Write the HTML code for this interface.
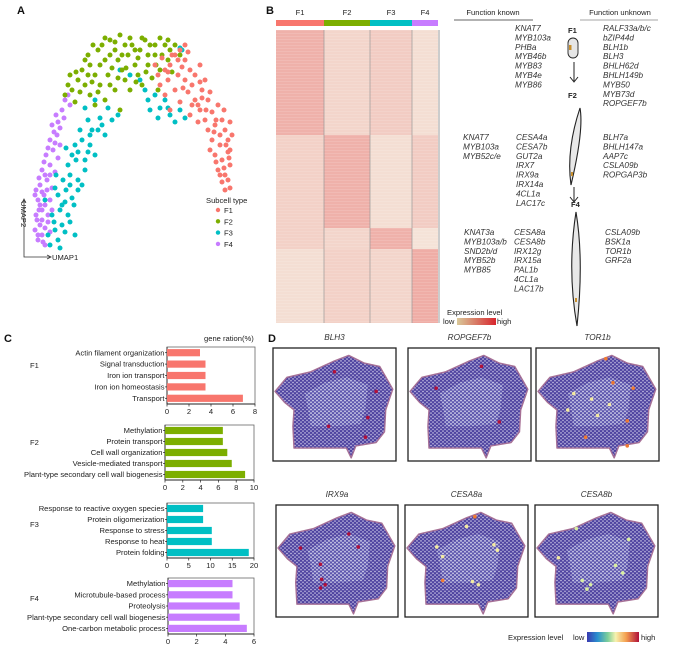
<!DOCTYPE html>
<html><head><meta charset="utf-8"><style>
body{margin:0;background:#fff;}
svg text{font-family:"Liberation Sans",sans-serif;}
.it{font-style:italic;font-size:8.2px;fill:#333;}
.lab{font-size:7.6px;fill:#222;}
.pl{font-size:11px;font-weight:bold;fill:#111;}
</style></head><body>
<svg id="fig" width="681" height="653" viewBox="0 0 681 653" xmlns="http://www.w3.org/2000/svg">
<defs>
<pattern id="hex" width="4" height="3.6" patternUnits="userSpaceOnUse"><rect width="4" height="3.6" fill="#4e43a0"/><circle cx="1" cy="0.9" r="0.75" fill="#d8d4ee"/><circle cx="3" cy="2.7" r="0.75" fill="#d8d4ee"/></pattern>
<pattern id="hex2" width="4" height="3.6" patternUnits="userSpaceOnUse"><rect width="4" height="3.6" fill="#5f5ab0"/><circle cx="1" cy="0.9" r="0.85" fill="#e8e8f6"/><circle cx="3" cy="2.7" r="0.85" fill="#e8e8f6"/></pattern>
<linearGradient id="gB" x1="0" x2="1"><stop offset="0" stop-color="#d9c99a"/><stop offset="1" stop-color="#d8262e"/></linearGradient>
<linearGradient id="gD" x1="0" x2="1"><stop offset="0" stop-color="#3a3ab0"/><stop offset="0.2" stop-color="#2a8fd0"/><stop offset="0.4" stop-color="#7ccf9a"/><stop offset="0.55" stop-color="#f6f2b0"/><stop offset="0.75" stop-color="#f4a050"/><stop offset="1" stop-color="#b0103a"/></linearGradient>
</defs>
<g id="pA"></g>
<g id="pB"></g>
<g id="pBr"></g>
<g id="pC"></g>
<g id="pD"></g>
</svg>
<script>
const NS="http://www.w3.org/2000/svg";
const COLORS=["#f8766d","#7cae00","#00bfc4","#c77cff"];
const CLUSTERS=["F1","F2","F3","F4"];
// Panel A data (UMAP units)
const umapF1=[[125,185],[132,192],[140,185],[145,195],[150,200],[155,190],[148,175],[138,170],[130,165],[135,155],[145,160],[155,170],[160,180],[165,175],[158,158],[150,148],[140,140],[165,150],[172,160],[178,150],[170,140],[160,135],[182,138],[188,145],[192,130],[185,125],[178,120],[195,120],[198,110],[190,105],[182,110],[185,95],[192,90],[198,98],[188,80],[195,75],[200,85],[192,68],[198,70],[175,130],[168,128],[200,128],[202,115],[155,205],[158,198],[128,175],[170,168],[180,100],[194,82],
 [135,180],[142,195],[152,183],[162,165],[175,170],[168,145],[180,158],[186,130],[176,140],[190,115],[196,105],[186,88],[199,92],[190,75],[200,62],[195,60],[162,145],[153,162],[138,178],[148,190],[184,118],[172,152],[194,140],[200,100],[170,185]];
const umapF2=[[35,155],[42,160],[48,170],[40,175],[55,165],[52,180],[60,185],[65,175],[58,195],[68,200],[75,190],[72,205],[80,210],[85,200],[90,215],[95,205],[100,212],[88,190],[78,175],[70,165],[98,195],[105,185],[110,200],[115,210],[120,205],[125,195],[130,212],[135,205],[118,185],[108,175],[95,170],[85,160],[75,150],[65,145],[100,160],[112,165],[122,172],[130,180],[138,190],[140,200],[142,178],[128,160],[90,140],[60,155],[45,148],[150,195],[82,182],[62,168],[105,200],[92,180],
 [38,165],[46,178],[55,190],[63,205],[75,212],[85,208],[92,195],[102,205],[112,212],[118,195],[125,205],[132,195],[80,165],[70,185],[58,175],[50,158],[96,182],[106,168],[116,178],[126,185],[88,172],[68,158],[80,195],[108,192],[138,210],[145,205]];
const umapF3=[[20,5],[28,10],[25,20],[32,25],[22,35],[30,40],[38,35],[28,55],[36,60],[42,52],[33,70],[40,75],[48,70],[38,85],[46,90],[55,80],[65,95],[45,105],[52,110],[60,105],[50,120],[68,120],[75,115],[58,130],[70,132],[55,142],[82,130],[65,150],[118,150],[125,155],[130,142],[135,150],[140,135],[145,128],[128,132],[155,132],[90,180],[110,170],[150,202],[152,200],[45,15],[15,50],[35,48],[25,62],[42,95],
 [18,15],[30,2],[35,18],[24,28],[40,28],[32,45],[44,45],[48,60],[52,65],[40,65],[55,90],[60,115],[72,125],[62,120],[48,98],[58,98],[120,140],[138,142],[150,140],[115,160],[100,175],[78,142],[88,135],[26,75],[36,102]];
const umapF4=[[8,10],[12,15],[10,25],[15,22],[6,35],[12,40],[18,35],[8,50],[14,55],[20,50],[10,65],[17,70],[22,62],[12,80],[20,85],[25,78],[16,95],[23,100],[28,92],[20,110],[27,115],[22,125],[30,122],[26,135],[32,140],[35,150],[40,145],[15,5],[20,18],[6,60],[25,107],[30,105],[5,20],[18,28],[10,45],[14,88],
 [7,30],[9,40],[15,45],[5,55],[12,58],[17,60],[20,75],[9,72],[15,75],[18,102],[24,118],[28,128],[34,132],[38,155],[12,30],[22,40],[8,15],[13,8]];
// Panel B heatmap intensities: rows = gene blocks, cols = clusters
const heatRows=["F1-genes","F2-genes","F3-genes","F4-genes"];
const heatRowSizes=[105,93,21,74];
const heatColSizes=[48,46,42,26];
const heatVals=[[0.7,0.3,0.4,0.2],[0.35,0.7,0.2,0.4],[0.35,0.3,0.7,0.15],[0.2,0.35,0.3,0.75]];
// Panel C
const goTerms=[
 ["Actin filament organization","Signal transduction","Iron ion transport","Iron ion homeostasis","Transport"],
 ["Methylation","Protein transport","Cell wall organization","Vesicle-mediated transport","Plant-type secondary cell wall biogenesis"],
 ["Response to reactive oxygen species","Protein oligomerization","Response to stress","Response to heat","Protein folding"],
 ["Methylation","Microtubule-based process","Proteolysis","Plant-type secondary cell wall biogenesis","One-carbon metabolic process"]];
const goF1=[3,3.5,3.5,3.5,6.9];
const goF2=[6.5,6.5,7,7.5,9];
const goF3=[8.3,8.3,10.3,10.3,18.8];
const goF4=[4.5,4.5,5,5,5.5];
const goTicks=[[0,2,4,6,8],[0,2,4,6,8,10],[0,5,10,15,20],[0,2,4,6]];
// Panel D
const genesD=["BLH3","ROPGEF7b","TOR1b","IRX9a","CESA8a","CESA8b"];
const spotsD=[
 [[0.5,0.2,1],[0.85,0.38,1],[0.78,0.62,1],[0.45,0.7,1],[0.76,0.8,1]],
 [[0.6,0.15,1],[0.22,0.35,1],[0.75,0.66,1]],
 [[0.57,0.08,0.8],[0.63,0.3,0.8],[0.8,0.35,0.8],[0.3,0.4,0.5],[0.25,0.55,0.5],[0.5,0.6,0.5],[0.75,0.65,0.8],[0.4,0.8,0.7],[0.75,0.88,0.8],[0.6,0.5,0.5],[0.45,0.45,0.5]],
 [[0.6,0.25,1],[0.68,0.37,1],[0.19,0.38,1],[0.36,0.53,1],[0.37,0.67,1],[0.4,0.72,1],[0.36,0.75,1]],
 [[0.57,0.09,0.75],[0.5,0.18,0.5],[0.73,0.35,0.5],[0.25,0.37,0.5],[0.3,0.46,0.5],[0.3,0.68,0.85],[0.55,0.69,0.5],[0.6,0.72,0.5],[0.76,0.4,0.5]],
 [[0.33,0.2,0.45],[0.77,0.3,0.45],[0.18,0.47,0.55],[0.66,0.54,0.45],[0.72,0.61,0.45],[0.38,0.68,0.4],[0.45,0.72,0.4],[0.42,0.76,0.4]]];

function el(tag,attrs,parent,txt){const e=document.createElementNS(NS,tag);for(const k in attrs)e.setAttribute(k,attrs[k]);if(txt!==undefined)e.textContent=txt;parent.appendChild(e);return e;}

// ---------- Panel A
const A=document.getElementById('pA');
el('text',{x:17,y:14,class:'pl',},A,'A');
const ax=u=>30+u, ay=v=>250-v;
[umapF4,umapF3,umapF2,umapF1].forEach((arr,i)=>{
  const ci=3-i;
  arr.forEach(p=>{const c=el('circle',{cx:ax(p[0]),cy:ay(p[1]),r:2.5,fill:COLORS[ci]},A);
    
    });
});
el('path',{d:'M24,200 L24,257 L50,257',fill:'none',stroke:'#333','stroke-width':0.8,},A);
el('path',{d:'M22,203 L24,199 L26,203 M47,255 L51,257 L47,259',fill:'none',stroke:'#333','stroke-width':0.8},A);
el('text',{x:52,y:260,class:'lab',},A,'UMAP1');
el('text',{x:0,y:0,class:'lab',transform:'translate(21,201) rotate(90)',},A,'UMAP2');
el('text',{x:206,y:203,class:'lab',},A,'Subcell type');
CLUSTERS.forEach((n,i)=>{const g=el('g',{},A);
 el('circle',{cx:218,cy:210+i*11.3,r:2.2,fill:COLORS[i]},g);el('text',{x:224,y:213+i*11.3,class:'lab'},g,n);});

// ---------- Panel B heatmap
const B=document.getElementById('pB');
el('text',{x:266,y:14,class:'pl',},B,'B');
const hx0=276, hy0=30;
let cx=hx0;
CLUSTERS.forEach((n,i)=>{const w=heatColSizes[i];
 el('rect',{x:cx,y:20,width:w,height:6,fill:COLORS[i],},B);
 el('text',{x:cx+w/2,y:15,'text-anchor':'middle',class:'lab','font-size':'8.5'},B,n);
 cx+=w;});
function lerp(a,b,t){return Math.round(a+(b-a)*t);}
function heatColor(t){return `rgb(${lerp(246,236,t)},${lerp(240,150,t)},${lerp(228,145,t)})`;}
let ry=hy0;
heatRows.forEach((rn,r)=>{let x=hx0;const h=heatRowSizes[r];
 heatColSizes.forEach((w,c)=>{const cell=el('rect',{x:x,y:ry,width:w,height:h,fill:heatColor(heatVals[r][c])},B);
  
  
  x+=w;});
 ry+=h;});
for(let y=hy0;y<ry;y+=3){el('rect',{x:hx0,y:y,width:162,height:1,fill:'#fff',opacity:0.12},B);}
cx=hx0;heatColSizes.forEach((w,i)=>{cx+=w;if(i<3)el('line',{x1:cx,y1:hy0,x2:cx,y2:ry,stroke:'#999','stroke-width':0.7},B);});
el('rect',{x:438,y:hy0,width:2,height:ry-hy0,fill:'#ccc'},B);

// ---------- Panel B right
const R=document.getElementById('pBr');
el('text',{x:493,y:15,'text-anchor':'middle',class:'lab','font-size':'8',},R,'Function known');
el('line',{x1:454,y1:20,x2:533,y2:20,stroke:'#333','stroke-width':0.8},R);
el('text',{x:620,y:15,'text-anchor':'middle',class:'lab','font-size':'8',},R,'Function unknown');
el('line',{x1:580,y1:20,x2:658,y2:20,stroke:'#888','stroke-width':0.8},R);
function list(x,y,items,name){const g=el('g',{},R);items.forEach((t,i)=>el('text',{x:x,y:y+i*9.4,class:'it'},g,t));}
list(515,31,["KNAT7","MYB103a","PHBa","MYB46b","MYB83","MYB4e","MYB86"],'f1-known-genes');
list(603,31,["RALF33a/b/c","bZIP44d","BLH1b","BLH3","BHLH62d","BHLH149b","MYB50","MYB73d","ROPGEF7b"],'f1-unknown-genes');
list(463,140,["KNAT7","MYB103a","MYB52c/e"],'f2-known-tf');
list(516,140,["CESA4a","CESA7b","GUT2a","IRX7","IRX9a","IRX14a","4CL1a","LAC17c"],'f2-known-genes');
list(603,140,["BLH7a","BHLH147a","AAP7c","CSLA09b","ROPGAP3b"],'f2-unknown-genes');
list(464,235,["KNAT3a","MYB103a/b","SND2b/d","MYB52b","MYB85"],'f4-known-tf');
list(514,235,["CESA8a","CESA8b","IRX12g","IRX15a","PAL1b","4CL1a","LAC17b"],'f4-known-genes');
list(605,235,["CSLA09b","BSK1a","TOR1b","GRF2a"],'f4-unknown-genes');
const cells=el('g',{},R);
el('text',{x:568,y:33,class:'lab','font-weight':'bold','font-size':'7.5'},cells,'F1');
el('rect',{x:568,y:38,width:10,height:20,rx:5,fill:'#e6e6e6',stroke:'#222','stroke-width':0.9},cells);
el('rect',{x:569,y:45,width:2.5,height:5,fill:'#c8902e'},cells);
el('text',{x:568,y:98,class:'lab','font-weight':'bold','font-size':'7.5'},cells,'F2');
el('text',{x:571,y:207,class:'lab','font-weight':'bold','font-size':'7.5'},cells,'F4');
el('path',{d:'M574,62 L574,81 M570,77 L574,82 L578,77',fill:'none',stroke:'#222','stroke-width':1},cells);
el('path',{d:'M574,187 L574,201 M570,197 L574,202 L578,197',fill:'none',stroke:'#222','stroke-width':1},cells);
el('path',{d:'M580,108 Q584,130 571,185 Q566,150 580,108 Z',fill:'#e8e8e8',stroke:'#222','stroke-width':1.1},cells);
el('path',{d:'M576,212 Q584,260 577,326 Q567,270 576,212 Z',fill:'#e8e8e8',stroke:'#222','stroke-width':1.1},cells);
el('rect',{x:571,y:172,width:2,height:4,fill:'#c8902e'},cells);
el('rect',{x:575,y:298,width:2,height:4,fill:'#c8902e'},cells);
const lg=el('g',{},R);
el('text',{x:447,y:315,class:'lab'},lg,'Expression  level');
el('text',{x:443,y:324,class:'lab'},lg,'low');
el('rect',{x:457,y:318,width:39,height:7,fill:'url(#gB)'},lg);
el('text',{x:497,y:324,class:'lab'},lg,'high');

// ---------- Panel C
const C=document.getElementById('pC');
el('text',{x:4,y:342,class:'pl',},C,'C');
el('text',{x:204,y:341,class:'lab',},C,'gene ration(%)');
const goData=[goF1,goF2,goF3,goF4];
const boxes=[{x0:167,x1:255,y0:347,y1:404,g:368},{x0:165,x1:254,y0:425,y1:480,g:445},{x0:167,x1:254,y0:503,y1:558,g:527},{x0:168,x1:254,y0:578,y1:634,g:601}];
boxes.forEach((b,k)=>{
 const g=el('g',{},C);
 const ticks=goTicks[k], max=ticks[ticks.length-1];
 const sx=v=>b.x0+(b.x1-b.x0)*v/max;
 const rowH=(b.y1-b.y0)/5;
 el('rect',{x:b.x0,y:b.y0,width:b.x1-b.x0,height:b.y1-b.y0,fill:'none',stroke:'#666','stroke-width':0.8},g);
 el('line',{x1:b.x0,y1:b.y0,x2:b.x0,y2:b.y1,stroke:'#222','stroke-width':0.9},g);
 el('line',{x1:b.x0,y1:b.y1,x2:b.x1,y2:b.y1,stroke:'#222','stroke-width':0.9},g);
 el('text',{x:30,y:b.g,class:'lab','font-size':'8'},g,CLUSTERS[k]);
 goData[k].forEach((v,i)=>{const cy=b.y0+rowH*(i+0.5);
  const bar=el('rect',{x:b.x0,y:cy-3.6,width:sx(v)-b.x0,height:7.2,fill:COLORS[k]},g);
  
  
  el('line',{x1:b.x0-2,y1:cy,x2:b.x0,y2:cy,stroke:'#222','stroke-width':0.7},g);
  el('text',{x:b.x0-2.5,y:cy+2.6,'text-anchor':'end',class:'lab'},g,goTerms[k][i]);});
 ticks.forEach(t=>{el('line',{x1:sx(t),y1:b.y1,x2:sx(t),y2:b.y1+2.5,stroke:'#222','stroke-width':0.7},g);
  el('text',{x:sx(t),y:b.y1+10,'text-anchor':'middle',class:'lab'},g,t);});
});

// ---------- Panel D
const D=document.getElementById('pD');
el('text',{x:268,y:342,class:'pl',},D,'D');
const shape=[[0,0.38],[0.1,0.25],[0.3,0.2],[0.5,0.1],[0.62,0.05],[0.75,0.12],[0.88,0.15],[0.99,0.36],[0.93,0.55],[0.92,0.75],[0.85,0.85],[0.68,0.88],[0.64,0.99],[0.6,0.9],[0.4,0.9],[0.16,0.9],[0.15,0.7],[0.16,0.55],[0.08,0.48]];
const inner=[[0.25,0.4],[0.42,0.3],[0.6,0.25],[0.78,0.32],[0.76,0.55],[0.72,0.68],[0.5,0.7],[0.3,0.7],[0.28,0.55]];
const dBoxes=[[273,348,123,113],[408,348,123,113],[536,348,123,113],[276,505,122,112],[405,505,123,112],[535,505,123,112]];
function spotColor(t){return t>=0.95?'#b0103a':t>=0.7?'#f07a30':t>=0.5?'#f3eaa0':'#d8eea0';}
genesD.forEach((gname,k)=>{const [bx,by,bw,bh]=dBoxes[k];
 const g=el('g',{},D);
 el('text',{x:bx+bw/2,y:by-8,'text-anchor':'middle',class:'it'},g,gname);
 el('rect',{x:bx,y:by,width:bw,height:bh,fill:'#fff',stroke:'#222','stroke-width':1.3},g);
 const m=2; const px=p=>(bx+m+p[0]*(bw-2*m)).toFixed(1)+','+(by+m+p[1]*(bh-2*m)).toFixed(1);
 el('polygon',{points:shape.map(px).join(' '),fill:'url(#hex)',stroke:'#a67096','stroke-width':1.4,'stroke-linejoin':'round'},g);
 el('polygon',{points:inner.map(px).join(' '),fill:'url(#hex2)',opacity:0.8},g);
 spotsD[k].forEach(s=>{const c=el('circle',{cx:bx+m+s[0]*(bw-2*m),cy:by+m+s[1]*(bh-2*m),r:1.8,fill:spotColor(s[2])},g);
  
  });
});
const dl=el('g',{},D);
el('text',{x:508,y:640,class:'lab','font-size':'7.8'},dl,'Expression level');
el('text',{x:573,y:640,class:'lab','font-size':'7.8'},dl,'low');
el('rect',{x:587,y:632,width:52,height:10,fill:'url(#gD)'},dl);
el('text',{x:641,y:640,class:'lab','font-size':'7.8'},dl,'high');
</script>
</body></html>
